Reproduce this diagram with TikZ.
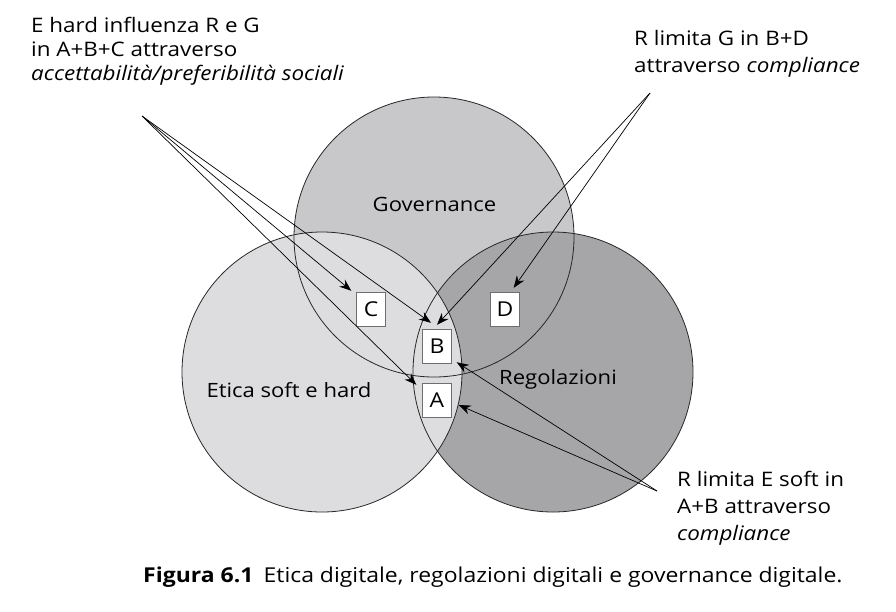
\documentclass[tikz,border=0pt]{standalone}
\usepackage{fontspec}
\setmainfont{Open Sans}[FakeStretch=1.12]
\usepackage{xcolor}
\usepackage{tikz}
\usetikzlibrary{arrows.meta}
\definecolor{govgray}{RGB}{200,200,202}
\definecolor{etigray}{RGB}{221,221,223}
\definecolor{reggray}{RGB}{166,166,168}
\definecolor{edgegray}{RGB}{40,40,40}
\definecolor{boxgray}{RGB}{110,110,110}

\begin{document}
\begin{tikzpicture}[x=1pt,y=-1pt,
    venn/.style={circle, minimum size=280pt, inner sep=0pt},
    letterbox/.style={draw=boxgray, fill=white, minimum width=29pt, minimum height=34pt, inner sep=0pt, font=\fontsize{20.5}{22}\selectfont},
    setname/.style={inner sep=0pt, anchor=base, font=\fontsize{19.7}{22}\selectfont},
    note/.style={align=left, inner sep=0pt, anchor=north west},
    pointer/.style={-{Stealth[length=12pt,width=9pt]}, line width=0.7pt}]
  \useasboundingbox (0,0) rectangle (896,611);

  \node[venn, fill=govgray] (gov) at (434,237) {};
  \node[venn, fill=reggray] (reg) at (553,372) {};
  \node[venn, fill=etigray] (eti) at (322,372) {};
  \foreach \n in {gov,reg,eti}
    \node[venn, draw=edgegray, line width=0.8pt] at (\n.center) {};

  \node[setname] (govname) at (434.5,211) {Governance};
  \node[setname] (etiname) at (289,397) {Etica soft e hard};
  \node[setname] (regname) at (558,384) {Regolazioni};

  \node[letterbox] (c) at (371,309) {C};
  \node[letterbox] (d) at (505,309) {D};
  \node[letterbox] (b) at (437,346) {B};
  \node[letterbox] (a) at (437,400) {A};

  \node[note, font=\fontsize{20}{23.8}\selectfont] (ehard) at (31,17)
    {E hard influenza R e G\\in A+B+C attraverso\\\textit{accettabilità/preferibilità sociali}};
  \node[note, font=\fontsize{20}{26.7}\selectfont] (rlimg) at (634,30)
    {R limita G in B+D\\attraverso \textit{compliance}};
  \node[note, font=\fontsize{20}{27}\selectfont] (rlime) at (677,471)
    {R limita E soft in\\A+B attraverso\\\textit{compliance}};

  \node[anchor=base west, inner sep=0pt, font=\fontsize{20.5}{22}\selectfont] (caption) at (143,582)
    {\textbf{Figura 6.1}\hspace{0.5em}Etica digitale, regolazioni digitali e governance digitale.};

  \coordinate (ehardfoot) at (142,116);
  \coordinate (rlimgfoot) at (650,93);
  \coordinate (rlimefoot) at (657,491);

  \draw[pointer] (ehardfoot) -- ([shift={(-5,-1)}]c.north west);
  \draw[pointer] (ehardfoot) -- ([shift={(-6,-6)}]b.north);
  \draw[pointer] (ehardfoot) -- ([shift={(-6,2)}]a.north west);
  \draw[pointer] (rlimgfoot) -- ([shift={(-6,-4)}]d.north east);
  \draw[pointer] (rlimgfoot) -- ([shift={(0,-4)}]b.north);
  \draw[pointer] (rlimefoot) -- ([shift={(5,-1)}]b.south east);
  \draw[pointer] (rlimefoot) -- ([shift={(7,5)}]a.east);
\end{tikzpicture}
\end{document}
